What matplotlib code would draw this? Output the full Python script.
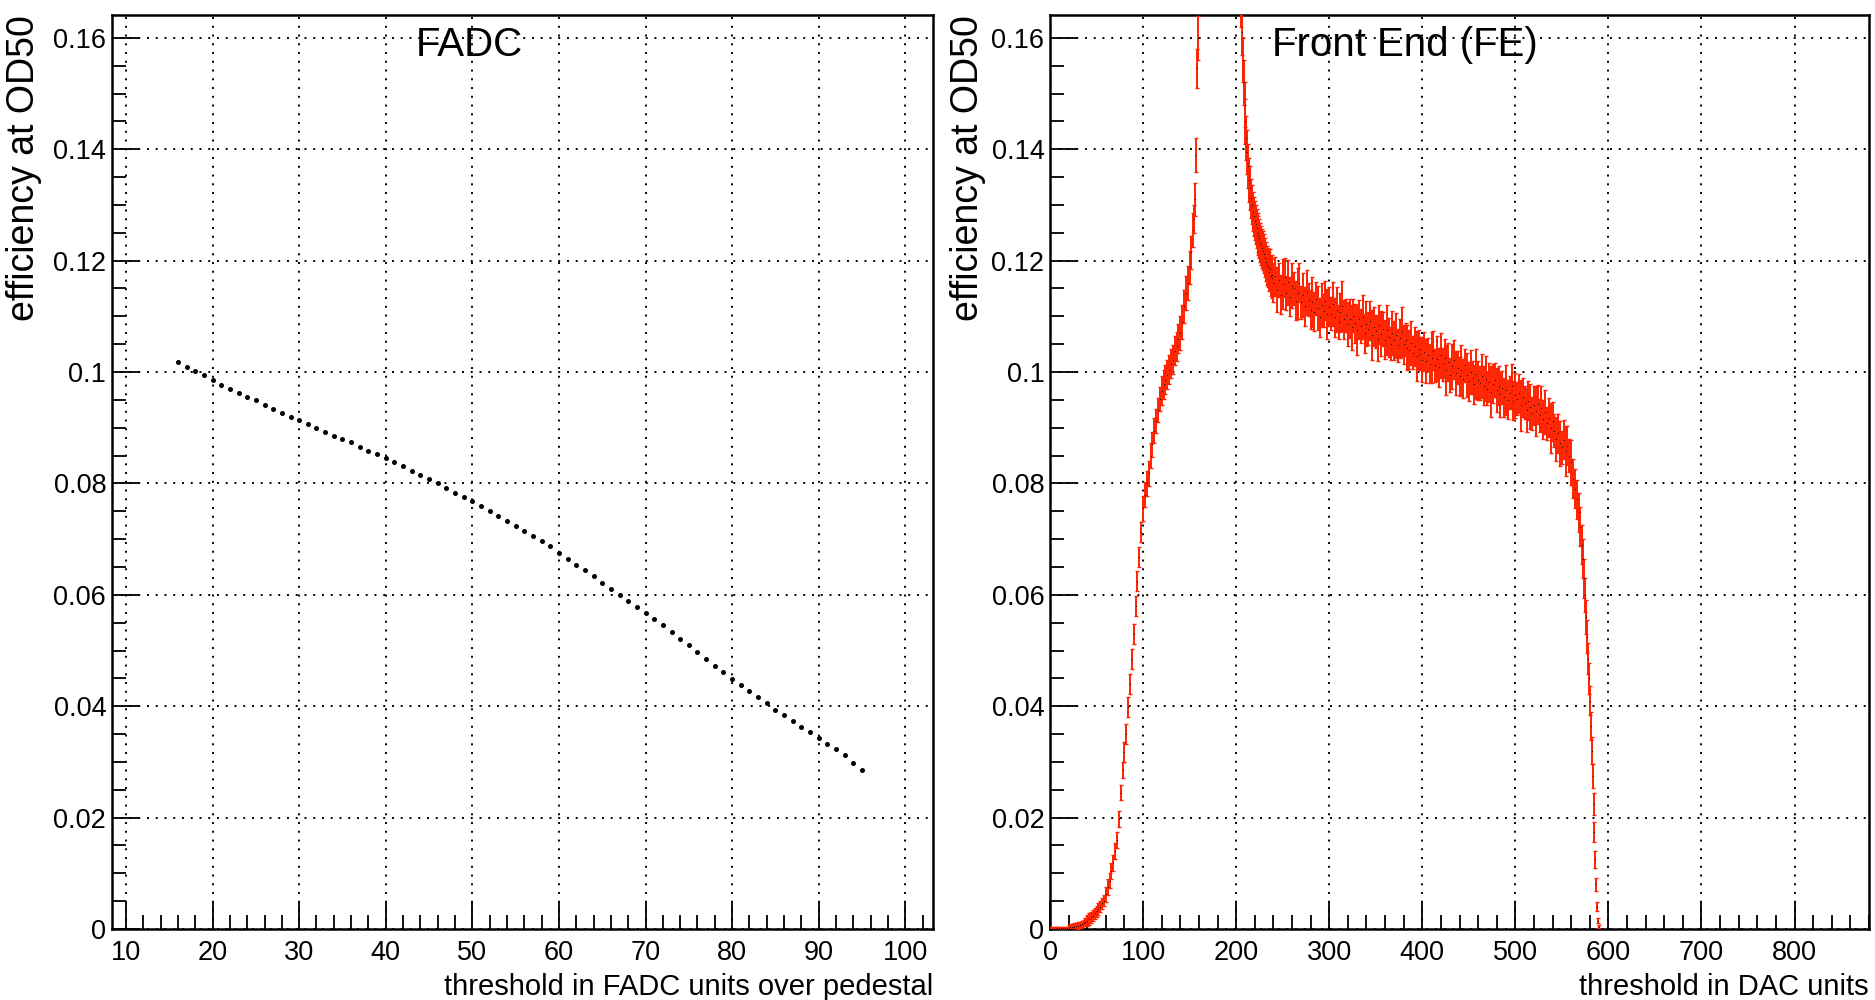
import numpy as np
import matplotlib
matplotlib.use("Agg")
import matplotlib.pyplot as plt
from matplotlib.ticker import MultipleLocator, FormatStrFormatter

plt.rcParams['font.family'] = ['Liberation Sans', 'DejaVu Sans']

# ---- left panel: FADC efficiency vs threshold ----
fadc_x = list(range(16, 96))
fadc_y = [
    0.1018, 0.1009, 0.1001, 0.0995, 0.0985, 0.0977, 0.0969, 0.0962, 0.0955, 0.0949,
    0.0941, 0.0934, 0.0926, 0.0919, 0.0913, 0.0907, 0.0899, 0.0893, 0.0886, 0.0880,
    0.0874, 0.0866, 0.0859, 0.0852, 0.0845, 0.0838, 0.0831, 0.0823, 0.0816, 0.0808,
    0.0801, 0.0792, 0.0783, 0.0775, 0.0768, 0.0759, 0.0750, 0.0741, 0.0732, 0.0723,
    0.0714, 0.0705, 0.0696, 0.0687, 0.0675, 0.0664, 0.0654, 0.0644, 0.0633, 0.0622,
    0.0610, 0.0600, 0.0588, 0.0578, 0.0568, 0.0557, 0.0545, 0.0533, 0.0521, 0.0509,
    0.0497, 0.0485, 0.0473, 0.0461, 0.0449, 0.0438, 0.0427, 0.0416, 0.0405, 0.0394,
    0.0384, 0.0373, 0.0363, 0.0353, 0.0343, 0.0333, 0.0323, 0.0313, 0.0298, 0.0286,
]

# ---- right panel: front end efficiency vs DAC threshold ----
fe_x_a = list(range(0, 155, 2))
fe_y_a = [
    0.0000, 0.0000, 0.0000, 0.0000, 0.0001, 0.0001, 0.0001, 0.0001, 0.0001, 0.0001,
    0.0002, 0.0003, 0.0003, 0.0004, 0.0005, 0.0006, 0.0007, 0.0009, 0.0011, 0.0013,
    0.0015, 0.0018, 0.0021, 0.0024, 0.0028, 0.0032, 0.0036, 0.0040, 0.0046, 0.0051,
    0.0062, 0.0075, 0.0087, 0.0104, 0.0118, 0.0140, 0.0160, 0.0198, 0.0245, 0.0285,
    0.0318, 0.0350, 0.0398, 0.0440, 0.0485, 0.0530, 0.0580, 0.0625, 0.0668, 0.0712,
    0.0755, 0.0780, 0.0800, 0.0818, 0.0850, 0.0870, 0.0895, 0.0912, 0.0932, 0.0952,
    0.0966, 0.0978, 0.0986, 0.0995, 0.1004, 0.1015, 0.1022, 0.1038, 0.1046, 0.1060,
    0.1070, 0.1090, 0.1118, 0.1142, 0.1160, 0.1188, 0.1215, 0.1255,
]
fe_e_a = [0.0003] * 10 + [0.0006] * 10 + [0.0010] * 10 + [0.0014] * 10 + \
         [0.0018] * 10 + [0.0022] * 10 + [0.0026] * 10 + [0.0030] * 8

fe_x_b = [155, 156, 157, 158, 159, 160]
fe_y_b = [0.1275, 0.1310, 0.1390, 0.1545, 0.1600, 0.1700]
fe_e_b = [0.0025, 0.0030, 0.0030, 0.0035, 0.0040, 0.0040]

fe_x_c = list(range(205, 241))
fe_y_c = [
    0.1660, 0.1610, 0.1560, 0.1520, 0.1480, 0.1450, 0.1420, 0.1395, 0.1370, 0.1345,
    0.1330, 0.1312, 0.1300, 0.1288, 0.1280, 0.1272, 0.1265, 0.1258, 0.1250, 0.1245,
    0.1240, 0.1232, 0.1228, 0.1222, 0.1218, 0.1212, 0.1205, 0.1198, 0.1192, 0.1188,
    0.1180, 0.1185, 0.1172, 0.1168, 0.1175, 0.1160,
]
fe_e_c = [0.0040] * 11 + [0.0035] * 25

fe_x_d = list(range(242, 573, 2))
fe_y_d = [
    0.1172, 0.1148, 0.1165, 0.1139, 0.1158, 0.1170, 0.1142, 0.1161, 0.1135, 0.1155,
    0.1150, 0.1128, 0.1141, 0.1160, 0.1125, 0.1138, 0.1118, 0.1143, 0.1130, 0.1112,
    0.1125, 0.1108, 0.1132, 0.1115, 0.1098, 0.1120, 0.1110, 0.1128, 0.1104, 0.1117,
    0.1105, 0.1122, 0.1098, 0.1112, 0.1090, 0.1107, 0.1118, 0.1095, 0.1102, 0.1086,
    0.1096, 0.1080, 0.1101, 0.1088, 0.1075, 0.1095, 0.1083, 0.1099, 0.1070, 0.1087,
    0.1078, 0.1092, 0.1066, 0.1081, 0.1073, 0.1060, 0.1085, 0.1069, 0.1077, 0.1058,
    0.1075, 0.1062, 0.1051, 0.1070, 0.1057, 0.1066, 0.1048, 0.1061, 0.1072, 0.1050,
    0.1058, 0.1044, 0.1040, 0.1052, 0.1035, 0.1046, 0.1029, 0.1041, 0.1033, 0.1022,
    0.1036, 0.1020, 0.1031, 0.1015, 0.1026, 0.1038, 0.1012, 0.1024, 0.1009, 0.1030,
    0.1014, 0.1025, 0.1003, 0.1018, 0.0995, 0.1010, 0.1022, 0.0998, 0.1008, 0.0992,
    0.1004, 0.0988, 0.1012, 0.0995, 0.0983, 0.1000, 0.0990, 0.0978, 0.0996, 0.0985,
    0.0980, 0.0993, 0.0975, 0.0988, 0.0970, 0.0982, 0.0965, 0.0979, 0.0986, 0.0968,
    0.0975, 0.0960, 0.0972, 0.0955, 0.0968, 0.0950, 0.0963, 0.0975, 0.0948, 0.0958,
    0.0952, 0.0962, 0.0940, 0.0955, 0.0945, 0.0932, 0.0948, 0.0938, 0.0926, 0.0940,
    0.0930, 0.0942, 0.0922, 0.0935, 0.0915, 0.0928, 0.0908, 0.0918, 0.0900, 0.0912,
    0.0895, 0.0880, 0.0890, 0.0872, 0.0865, 0.0878, 0.0858, 0.0868, 0.0850, 0.0838,
    0.0808, 0.0790, 0.0772, 0.0748, 0.0722, 0.0690,
]
fe_e_d = [0.0035, 0.0040, 0.0030, 0.0035, 0.0045, 0.0035, 0.0030, 0.0040] * 20 + [0.0035] * 6

fe_x_e = list(range(573, 591))
fe_y_e = [
    0.0665, 0.0630, 0.0600, 0.0560, 0.0525, 0.0485, 0.0450, 0.0410, 0.0365, 0.0320,
    0.0275, 0.0225, 0.0175, 0.0125, 0.0080, 0.0040, 0.0015, 0.0004,
]
fe_e_e = [0.0035, 0.0035, 0.0030, 0.0030, 0.0030, 0.0028, 0.0028, 0.0026, 0.0025, 0.0024,
          0.0022, 0.0020, 0.0018, 0.0015, 0.0012, 0.0008, 0.0005, 0.0003]

fe_x = fe_x_a + fe_x_b + fe_x_c + fe_x_d + fe_x_e
fe_y = fe_y_a + fe_y_b + fe_y_c + fe_y_d + fe_y_e
fe_e = fe_e_a + fe_e_b + fe_e_c + fe_e_d + fe_e_e

red = '#ff2200'
W, H = 1875, 1000
fig = plt.figure(figsize=(W / 100, H / 100), dpi=100)

ax1 = fig.add_axes([111.7 / W, 71 / H, (933 - 111.7) / W, 914 / H])
ax2 = fig.add_axes([1050 / W, 71 / H, (1869 - 1050) / W, 914 / H])


def style(ax, xmaj, xmin):
    ax.set_ylim(0, 0.1641)
    ax.xaxis.set_major_locator(MultipleLocator(xmaj))
    ax.xaxis.set_minor_locator(MultipleLocator(xmin))
    ax.yaxis.set_major_locator(MultipleLocator(0.02))
    ax.yaxis.set_minor_locator(MultipleLocator(0.005))
    ax.yaxis.set_major_formatter(FormatStrFormatter('%g'))
    ax.tick_params(which='both', direction='in', top=False, right=False,
                   labelsize=19.5, width=1.3, colors='black')
    ax.tick_params(which='major', length=20)
    ax.tick_params(which='minor', length=10)
    ax.tick_params(axis='x', pad=8)
    ax.tick_params(axis='y', pad=4)
    ax.grid(which='major', color='black', ls=(0, (1, 3.5)), lw=1.4)
    for s in ax.spines.values():
        s.set_linewidth(1.8)


style(ax1, 10, 2)
ax1.set_xlim(8.35, 103.2)
ax1.plot(fadc_x, fadc_y, 'o', color='black', ms=3.6, mew=0, zorder=3)

style(ax2, 100, 20)
ax2.set_xlim(0, 880)
ax2.errorbar(fe_x, fe_y, yerr=fe_e, fmt='none', ecolor=red, elinewidth=1.4,
             capsize=1.5, capthick=1.0, zorder=3)
ax2.plot(fe_x, fe_y, '.', color='black', ms=1.6, mew=0, zorder=4)

ax1.text(0.435, 0.955, 'FADC', transform=ax1.transAxes, ha='center',
         va='baseline', fontsize=29)
ax2.text(0.4336, 0.955, 'Front End (FE)', transform=ax2.transAxes, ha='center',
         va='baseline', fontsize=29)

for ax, lx in ((ax1, -0.085), (ax2, -0.078)):
    ax.set_ylabel('efficiency at OD50', fontsize=27, loc='top')
    ax.yaxis.set_label_coords(lx, 1.0)

ax1.set_xlabel('threshold in FADC units over pedestal', fontsize=21, loc='right')
ax1.xaxis.set_label_coords(1.0, -0.048)
ax2.set_xlabel('threshold in DAC units', fontsize=21, loc='right')
ax2.xaxis.set_label_coords(1.0, -0.048)

fig.savefig('out.png', dpi=100, facecolor='white')
